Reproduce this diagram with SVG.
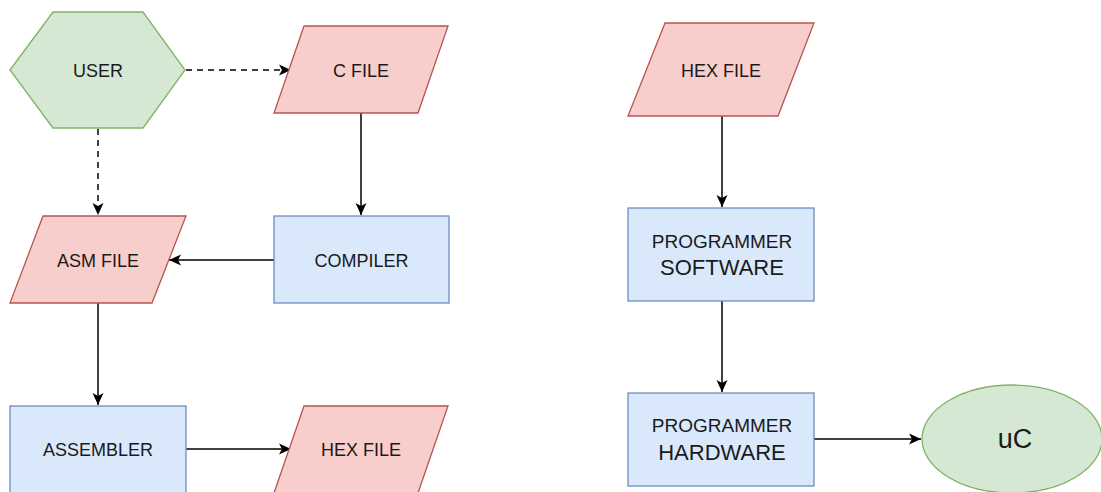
<svg xmlns="http://www.w3.org/2000/svg" width="1101" height="492" viewBox="0 0 1101 492">
  <style>
    .green { fill: #d5e8d4; stroke: #82b366; stroke-width: 1.3; }
    .red { fill: #f8cecc; stroke: #b85450; stroke-width: 1.3; }
    .blue { fill: #dae8fc; stroke: #6c8ebf; stroke-width: 1.3; }
    .lbl { font-family: "Liberation Sans", Arial, sans-serif; font-size: 18px; fill: #1a1a1a; text-anchor: middle; }
    .mid { font-size: 19px; }
    .big { font-size: 22px; }
    .huge { font-size: 27px; }
    .edge { fill: none; stroke: #000; stroke-width: 1.5; marker-end: url(#arrow); }
    .dash { stroke-dasharray: 6 5; }
  </style>
  <defs>
    <marker id="arrow" markerWidth="14" markerHeight="14" viewBox="0 0 14 14" refX="13" refY="7" orient="auto" markerUnits="userSpaceOnUse">
      <path d="M1,1.5 L13,7 L1,12.5 L4,7 Z" fill="#000"/>
    </marker>
  </defs>
  <rect width="1101" height="492" fill="#fff"/>

  <g id="connectors">
    <path class="edge dash" d="M186,70 L291,70"/>
    <path class="edge dash" d="M98,129 L98,215"/>
    <path class="edge" d="M361,113 L361,215"/>
    <path class="edge" d="M274,260 L169,260"/>
    <path class="edge" d="M98,303 L98,405"/>
    <path class="edge" d="M186,449 L291,449"/>
    <path class="edge" d="M722,116 L722,207"/>
    <path class="edge" d="M722,301 L722,392"/>
    <path class="edge" d="M814,439 L921,439"/>
  </g>

  <g id="user">
    <polygon class="green" points="10,70 53,12 143,12 185,70 143,128 53,128"/>
    <text class="lbl" x="98" y="77">USER</text>
  </g>
  <g id="c-file">
    <polygon class="red" points="304,26 448,26 418,113 274,113"/>
    <text class="lbl" x="361" y="77">C FILE</text>
  </g>
  <g id="compiler">
    <rect class="blue" x="274" y="216" width="175" height="87"/>
    <text class="lbl" x="361.5" y="267">COMPILER</text>
  </g>
  <g id="asm-file">
    <polygon class="red" points="43,216 186,216 152,303 10,303"/>
    <text class="lbl" x="98" y="267">ASM FILE</text>
  </g>
  <g id="assembler">
    <rect class="blue" x="10" y="406" width="176" height="87"/>
    <text class="lbl" x="98" y="456">ASSEMBLER</text>
  </g>
  <g id="hex-file-out">
    <polygon class="red" points="304,406 448,406 418,493 274,493"/>
    <text class="lbl" x="361" y="456">HEX FILE</text>
  </g>
  <g id="hex-file-in">
    <polygon class="red" points="665,23 814,23 778,116 628,116"/>
    <text class="lbl" x="721" y="77">HEX FILE</text>
  </g>
  <g id="programmer-software">
    <rect class="blue" x="628" y="208" width="186" height="93"/>
    <text class="lbl mid" x="722" y="248">PROGRAMMER</text>
    <text class="lbl big" x="722" y="275">SOFTWARE</text>
  </g>
  <g id="programmer-hardware">
    <rect class="blue" x="628" y="393" width="186" height="93"/>
    <text class="lbl mid" x="722" y="432">PROGRAMMER</text>
    <text class="lbl big" x="722" y="460">HARDWARE</text>
  </g>
  <g id="uc">
    <ellipse class="green" cx="1012" cy="439" rx="90" ry="54"/>
    <text class="lbl huge" x="1015" y="448">uC</text>
  </g>
</svg>
